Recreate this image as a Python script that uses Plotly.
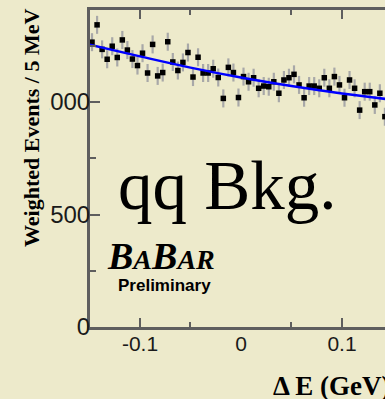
import plotly.graph_objects as go

# Delta E bin centres (5 MeV bins from -0.15 to 0.15 GeV)
bin_centers = [round(-0.1475 + 0.005 * i, 4) for i in range(60)]

# Weighted qq-background events per bin
weighted_events = [
    1266, 1343, 1234, 1190, 1248, 1198, 1276, 1231, 1191, 1162,
    1217, 1129, 1256, 1116, 1131, 1268, 1178, 1140, 1176, 1220,
    1111, 1199, 1129, 1129, 1148, 1109, 1016, 1154, 1131, 1020,
    1113, 1090, 1108, 1061, 1071, 1068, 1090, 1039, 1098, 1108,
    1123, 1076, 1019, 1071, 1071, 1061, 1108, 1061, 1113, 1076,
    1019, 1098, 1061, 964, 1046, 1046, 987, 1039, 935, 1000,
]
event_error = 40

# Background fit curve sampled along Delta E
fit_de = [-0.15, -0.1, -0.05, 0.0, 0.05, 0.1, 0.15]
fit_events = [1255, 1203, 1153, 1109, 1071, 1038, 1010]

x_tick_vals = [-0.1, 0.0, 0.1]
x_tick_text = ["-0.1", "0", "0.1"]
y_tick_vals = [0, 500, 1000]
y_tick_text = ["0", "500", "1000"]

BG = "#EDEACB"
FRAME = "#5e5e5e"

fig = go.Figure()

fig.add_trace(go.Scatter(
    x=bin_centers, y=weighted_events, mode="markers",
    marker=dict(symbol="square", size=5.5, color="black"),
    error_y=dict(type="constant", value=event_error, color="#a8a8a8",
                 thickness=2.2, width=0),
    showlegend=False, hoverinfo="skip",
))

fig.add_trace(go.Scatter(
    x=fit_de, y=fit_events, mode="lines", line_shape="spline",
    line=dict(color="#0000ff", width=2.5),
    showlegend=False, hoverinfo="skip",
))

# invisible trace on the labelling axis
fig.add_trace(go.Scatter(x=[0], y=[0], xaxis="x2", mode="markers",
                         marker=dict(opacity=0), showlegend=False,
                         hoverinfo="skip"))

x_range = [-0.1495, 0.1426]
y_range = [0, 1409]

fig.update_layout(
    width=385, height=399,
    margin=dict(l=90, r=0, t=10, b=72),
    paper_bgcolor=BG, plot_bgcolor=BG,
    xaxis=dict(
        range=x_range, showgrid=False, zeroline=False,
        showline=True, linecolor=FRAME, linewidth=3, mirror="ticks",
        ticks="inside", ticklen=9, tickwidth=2, tickcolor=FRAME,
        tickvals=[-0.1, 0.1], showticklabels=False,
        minor=dict(tickvals=[-0.05, 0.05], ticks="inside", ticklen=5,
                   tickwidth=2, tickcolor=FRAME),
    ),
    xaxis2=dict(
        range=x_range, overlaying="x", anchor="y", side="bottom",
        showgrid=False, zeroline=False, showline=False, ticks="",
        tickvals=x_tick_vals, ticktext=x_tick_text,
        tickfont=dict(family="Liberation Sans", size=21, color="#1a1a1a"),
        ticklabelstandoff=2,
    ),
    yaxis=dict(
        range=y_range, showgrid=False, zeroline=False,
        showline=True, linecolor=FRAME, linewidth=3,
        ticks="inside", ticklen=10, tickwidth=2, tickcolor=FRAME,
        tickvals=y_tick_vals, ticktext=y_tick_text,
        tickfont=dict(family="Liberation Sans", size=24, color="#1a1a1a"),
        ticklabelstandoff=-8,
        minor=dict(tickvals=[250, 750, 1250], ticks="inside", ticklen=6,
                   tickwidth=2, tickcolor=FRAME),
    ),
)

# backing strip behind the y-axis title
fig.add_shape(type="rect", xref="paper", yref="paper", layer="above",
              x0=-90 / 295, x1=(49.5 - 90) / 295,
              y0=(327 - 118) / 317, y1=(327 - 86) / 317,
              fillcolor=BG, line=dict(width=0))

annotations = [
    dict(text="<b>Weighted Events / 5 MeV</b>", textangle=-90,
         x=(31 - 90) / 295, y=(327 - 128) / 317, xref="paper", yref="paper",
         xanchor="center", yanchor="middle", showarrow=False,
         font=dict(family="Liberation Serif", size=22, color="black")),
    dict(text="<b>\u0394 E (GeV)</b>",
         x=(271 - 90) / 295, y=(327 - 386) / 317, xref="paper", yref="paper",
         xanchor="left", yanchor="middle", showarrow=False,
         font=dict(family="Liberation Serif", size=27, color="black")),
    dict(text="qq Bkg.",
         x=(116 - 90) / 295, y=(327 - 186) / 317, xref="paper", yref="paper",
         xanchor="left", yanchor="middle", showarrow=False,
         font=dict(family="Liberation Serif", size=69, color="black")),
    dict(text="<b><i>B<span style='font-size:28px'>A</span>B"
              "<span style='font-size:28px'>AR</span></i></b>",
         x=(105 - 90) / 295, y=(327 - 256) / 317, xref="paper", yref="paper",
         xanchor="left", yanchor="middle", showarrow=False,
         font=dict(family="Liberation Serif", size=38, color="black")),
    dict(text="<b>Preliminary</b>",
         x=(116 - 90) / 295, y=(327 - 285) / 317, xref="paper", yref="paper",
         xanchor="left", yanchor="middle", showarrow=False,
         font=dict(family="Liberation Sans", size=17, color="black")),
]
fig.update_layout(annotations=annotations)

fig.write_html("out.html")
